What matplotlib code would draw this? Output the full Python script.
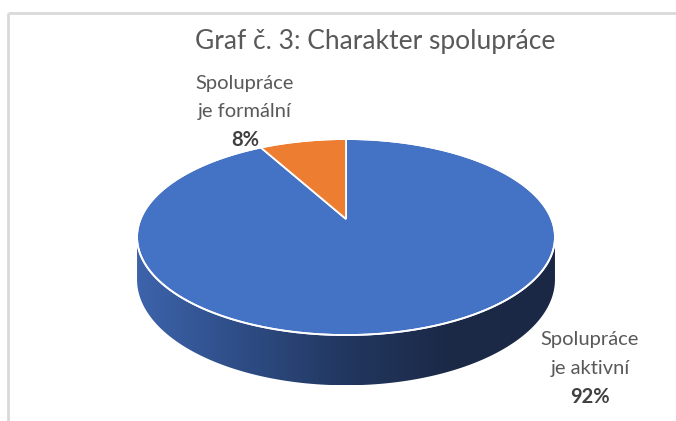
import numpy as np
import matplotlib.pyplot as plt
from matplotlib.patches import Polygon
from matplotlib.colors import LinearSegmentedColormap

plt.rcParams['font.family'] = ['Lato', 'DejaVu Sans']

# --- data ---
categories = ['Spolupráce\nje aktivní', 'Spolupráce\nje formální']
values = [92, 8]
colors = ['#4472C4', '#ED7D31']
title = 'Graf č. 3: Charakter spolupráce'

# --- geometry of the 3D pie (pixel coords, y down) ---
W, H = 676, 421
cx, cy = 346, 219       # projected centre of the pie
A, B = 205.4, 94.7       # radii before perspective
k = 0.184                # perspective strength
depth = 41               # thickness of the pie


def project(t, drop=0.0):
    # t = clockwise angle from 12 o'clock (radians)
    u, v = np.sin(t), np.cos(t)
    w = 1 + k * v
    return cx + A * u / w, cy - B * v / w + drop / w


fig = plt.figure(figsize=(W / 100, H / 100), dpi=100)
ax = fig.add_axes([0, 0, 1, 1])
ax.set_xlim(0, W)
ax.set_ylim(H, 0)
ax.axis('off')

# frame of the chart area (cropped screenshot)
ax.plot([8, W], [13, 13], color='#d9d9d9', lw=2, solid_capstyle='butt')
ax.plot([8, 8], [13, H], color='#d9d9d9', lw=2, solid_capstyle='butt')

# --- side wall (visible front half) ---
t_edge = np.arccos(-k)
ts = np.linspace(t_edge, 2 * np.pi - t_edge, 300)
tx, ty = project(ts)
bx, by = project(ts[::-1], depth)
side = np.column_stack([np.r_[tx, bx], np.r_[ty, by]])
side_patch = Polygon(side, closed=True, facecolor='none', edgecolor='none')
ax.add_patch(side_patch)

side_cmap = LinearSegmentedColormap.from_list(
    'side', ['#3d63ab', '#2e4d86', '#22375f', '#1b2947', '#1b2845'])
grad = np.linspace(0, 1, 256).reshape(1, -1)
xmin, xmax = side[:, 0].min(), side[:, 0].max()
im = ax.imshow(grad, cmap=side_cmap, aspect='auto',
               extent=(xmin, xmax, side[:, 1].max(), side[:, 1].min()),
               zorder=1)
im.set_clip_path(side_patch)

# --- top face slices ---
fracs = np.array(values) / np.sum(values)
start = 0.0
for frac, col in zip(fracs, colors):
    tt = np.linspace(start, start + frac * 2 * np.pi, 200)
    px, py = project(tt)
    verts = np.column_stack([np.r_[cx, px, cx], np.r_[cy, py, cy]])
    ax.add_patch(Polygon(verts, closed=True, facecolor=col,
                         edgecolor='white', lw=1.3, joinstyle='miter', zorder=2))
    start += frac * 2 * np.pi

# white rim on the front edge
ex, ey = project(np.linspace(0, 2 * np.pi, 400))
ax.plot(ex, ey, color='white', lw=1.3, zorder=3)

# --- texts ---
ax.text(375, 42, title, ha='center', va='center', fontsize=19,
        color='#595959')

label_pos = [(590, 340), (245, 83)]
line_gap = 28.5
for (lx, ly), cat, v in zip(label_pos, categories, values):
    for i, line in enumerate(cat.split('\n')):
        ax.text(lx, ly + i * line_gap, line, ha='center', va='center',
                fontsize=14.5, color='#595959')
    ax.text(lx, ly + 2 * line_gap, f'{v}%', ha='center', va='center',
            fontsize=14.5, color='#404040', fontweight='bold')

fig.savefig('out.png', dpi=100)
